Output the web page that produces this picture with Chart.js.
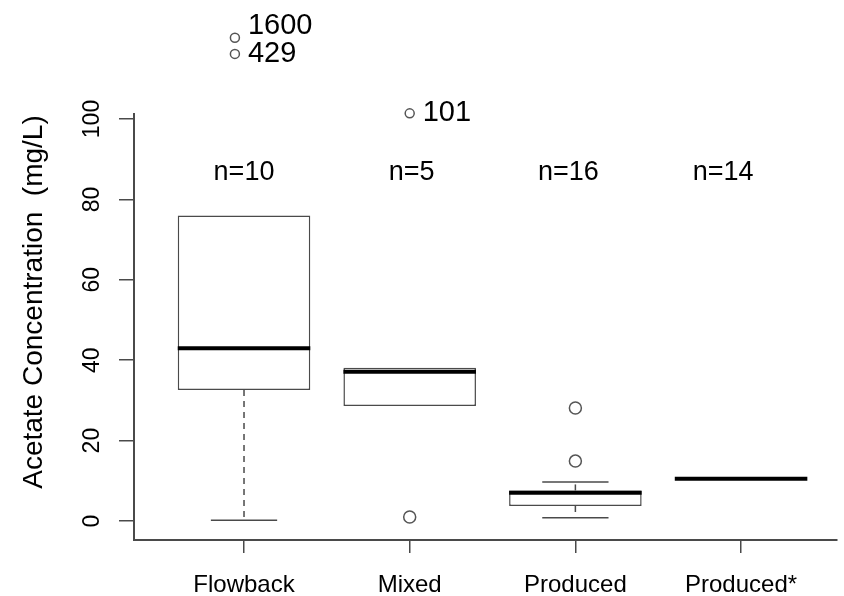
<!DOCTYPE html>
<html lang="en">
<head>
<meta charset="utf-8">
<title>Acetate Concentration</title>
<script src="https://cdn.jsdelivr.net/npm/chart.js@4.4.1/dist/chart.umd.min.js"></script>
<style>
  html, body { margin: 0; padding: 0; background: #fff; }
</style>
</head>
<body>
<canvas id="grafico" width="844" height="596"></canvas>
<script>
// Boxplot desenhado com barras flutuantes (caixa) + plugin (mediana, bigodes, rótulos)
const categorias = ['Flowback', 'Mixed', 'Produced', 'Produced*'];
const quartil1 = [32.6, 28.6, 3.7, 10.5];
const medianas = [43.0, 37.1, 7.0, 10.5];
const quartil3 = [76.0, 38.1, 7.6, 10.5];
const bigodeInf = [0.2, 28.6, 0.8, 10.5];
const bigodeSup = [76.0, 38.1, 9.7, 10.5];
const contagens = [10, 5, 16, 14];
const outlierGrupo = [0.945, 0.945, 2, 2, 3, 3];
const outlierValor = [120.2, 116.2, 101.4, 1.0, 28.1, 14.9];
const outlierRotulo = ['1600', '429', '101', '', '', ''];
const ticksY = [0, 20, 40, 60, 80, 100];

const FONTE = "'Liberation Sans', Arial, sans-serif";
const TRACO = '#4a4a4a';
const TOPO_EIXO_Y = 101.5; // o eixo y (estilo R) termina logo acima de 100

const pluginBoxplot = {
  id: 'boxplot',
  afterDatasetsDraw(chart) {
    const { ctx, chartArea, scales: { x, y } } = chart;
    const caixas = chart.getDatasetMeta(0).data;
    ctx.save();

    // linha do eixo y
    ctx.strokeStyle = TRACO;
    ctx.lineWidth = 2;
    ctx.beginPath();
    ctx.moveTo(chartArea.left, y.getPixelForValue(TOPO_EIXO_Y));
    ctx.lineTo(chartArea.left, chartArea.bottom);
    ctx.stroke();

    // bigodes tracejados + hastes
    ctx.lineWidth = 1.5;
    caixas.forEach((el, i) => {
      const cx = x.getPixelForValue(i + 1);
      const w = el.width;
      const pares = [[quartil3[i], bigodeSup[i]], [quartil1[i], bigodeInf[i]]];
      for (const [de, ate] of pares) {
        if (de === ate) continue;
        ctx.setLineDash([6, 5]);
        ctx.beginPath();
        ctx.moveTo(cx, y.getPixelForValue(de));
        ctx.lineTo(cx, y.getPixelForValue(ate));
        ctx.stroke();
        ctx.setLineDash([]);
        ctx.beginPath();
        ctx.moveTo(cx - w / 4, y.getPixelForValue(ate));
        ctx.lineTo(cx + w / 4, y.getPixelForValue(ate));
        ctx.stroke();
      }
    });

    // medianas (linha grossa)
    ctx.strokeStyle = '#000';
    ctx.lineWidth = 4;
    caixas.forEach((el, i) => {
      const cx = x.getPixelForValue(i + 1);
      const py = y.getPixelForValue(medianas[i]);
      ctx.beginPath();
      ctx.moveTo(cx - el.width / 2, py);
      ctx.lineTo(cx + el.width / 2, py);
      ctx.stroke();
    });

    ctx.fillStyle = '#000';

    // rótulos do eixo y (paralelos ao eixo, estilo R)
    ctx.font = `23px ${FONTE}`;
    ctx.textAlign = 'center';
    ctx.textBaseline = 'middle';
    for (const v of ticksY) {
      ctx.save();
      ctx.translate(93, y.getPixelForValue(v));
      ctx.rotate(-Math.PI / 2);
      ctx.fillText(String(v), 0, 0);
      ctx.restore();
    }

    // título do eixo y
    ctx.save();
    ctx.font = `28px ${FONTE}`;
    ctx.translate(34, 302);
    ctx.rotate(-Math.PI / 2);
    ctx.fillText('Acetate Concentration  (mg/L)', 0, 0);
    ctx.restore();

    // n= acima de cada grupo
    const deslocN = [0, 2, -7, -18];
    ctx.font = `27px ${FONTE}`;
    contagens.forEach((n, i) => {
      ctx.fillText(`n=${n}`, x.getPixelForValue(i + 1) + deslocN[i], y.getPixelForValue(86.8));
    });

    // rótulos dos outliers
    const pontos = chart.getDatasetMeta(1).data;
    ctx.font = `29px ${FONTE}`;
    ctx.textAlign = 'left';
    pontos.forEach((p, i) => {
      if (!outlierRotulo[i]) return;
      const dy = outlierRotulo[i] === '1600' ? -12 : 0;
      ctx.fillText(outlierRotulo[i], p.x + 13, p.y + dy);
    });

    ctx.restore();
  },
};

new Chart(document.getElementById('grafico'), {
  type: 'bar',
  data: {
    datasets: [
      {
        type: 'bar',
        data: categorias.map((c, i) => ({ x: i + 1, y: [quartil1[i], quartil3[i]] })),
        backgroundColor: '#fff',
        borderColor: TRACO,
        borderWidth: 1.5,
        borderSkipped: false,
        categoryPercentage: 1,
        barPercentage: 0.8,
      },
      {
        type: 'scatter',
        data: outlierGrupo.map((g, i) => ({ x: g, y: outlierValor[i] })),
        pointRadius: (c) => (outlierRotulo[c.dataIndex] ? 4.5 : 6),
        pointBackgroundColor: 'rgba(255,255,255,0)',
        pointBorderColor: '#555',
        pointBorderWidth: 1.5,
        clip: false,
      },
    ],
  },
  options: {
    responsive: false,
    animation: false,
    devicePixelRatio: 1,
    layout: { padding: { top: 18.5, left: 0, right: 0, bottom: 0 } },
    plugins: { legend: { display: false }, tooltip: { enabled: false } },
    events: [],
    scales: {
      x: {
        type: 'linear',
        min: 0.336,
        max: 4.576,
        offset: false,
        afterBuildTicks: (s) => { s.ticks = [1, 2, 3, 4].map((v) => ({ value: v })); },
        afterFit: (s) => { s.height = 56; s.paddingLeft = 0; s.paddingRight = 0; },
        ticks: {
          callback: (v) => categorias[v - 1],
          color: '#000',
          font: { family: FONTE, size: 24 },
          padding: 18,
          maxRotation: 0,
          autoSkip: false,
        },
        grid: { offset: false, drawOnChartArea: false, drawTicks: true, tickLength: 13, color: TRACO, lineWidth: 1.5 },
        border: { color: TRACO, width: 2 },
      },
      y: {
        type: 'linear',
        min: -4.73,
        max: 125,
        afterBuildTicks: (s) => { s.ticks = ticksY.map((v) => ({ value: v })); },
        afterFit: (s) => { s.width = 134; s.paddingTop = 0; s.paddingBottom = 0; },
        ticks: { display: false },
        grid: { drawOnChartArea: false, drawTicks: true, tickLength: 15, color: TRACO, lineWidth: 1.5 },
        border: { display: false },
      },
    },
  },
  plugins: [pluginBoxplot],
});
</script>
</body>
</html>
